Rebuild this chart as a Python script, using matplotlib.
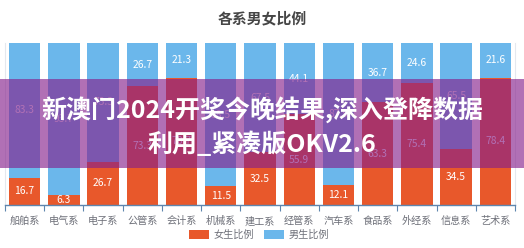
import matplotlib
matplotlib.use("Agg")
import matplotlib.pyplot as plt
import numpy as np
from matplotlib.patches import Rectangle, Patch

plt.rcParams['font.family'] = ['Noto Sans CJK SC', 'DejaVu Sans']

categories = ["船舶系", "电气系", "电子系", "公管系", "会计系", "机械系", "建工系",
              "经管系", "汽车系", "食品系", "外经系", "信息系", "艺术系"]
female = [16.7, 6.3, 26.7, 73.3, 78.7, 11.5, 32.5, 55.9, 12.1, 63.3, 75.4, 34.5, 78.4]
male = [83.3, 93.7, 73.3, 26.7, 21.3, 88.5, 67.5, 44.1, 87.9, 36.7, 24.6, 65.5, 21.6]
series_names = ["女生比例", "男生比例"]
title = "各系男女比例"
overlay_lines = ["新澳门2024开奖今晚结果,深入登降数据", "利用_紧凑版OKV2.6"]

c_female = "#E8582B"
c_male = "#6BB7EB"

W, H = 524, 248
fig = plt.figure(figsize=(W / 100, H / 100), dpi=100)
ax = fig.add_axes([5 / W, (H - 205) / H, 510 / W, 162 / H])

x = np.arange(len(categories))
bw = 0.8
b1 = ax.bar(x, female, width=bw, color=c_female, label=series_names[0], zorder=2)
b2 = ax.bar(x, male, width=bw, bottom=female, color=c_male, label=series_names[1], zorder=2)

for i in range(len(categories)):
    ax.text(x[i], female[i] / 2, f"{female[i]:.1f}", ha="center", va="center",
            color="white", fontsize=7.4, zorder=3)
    ax.text(x[i], female[i] + male[i] / 2, f"{male[i]:.1f}", ha="center", va="center",
            color="white", fontsize=7.4, zorder=3)

ax.set_xlim(-0.5, len(categories) - 0.5)
ax.set_ylim(0, 100)
ax.set_yticks([])
ax.set_xticks(x)
ax.set_xticklabels(categories, fontsize=7.3, color="#6E7079")
ax.tick_params(axis="x", length=0, pad=8)
ax.set_xticks(np.arange(len(categories) + 1) - 0.5, minor=True)
ax.tick_params(axis="x", which="minor", length=4, color="#5E86AE", width=0.8)
ax.spines["top"].set_visible(False)
ax.spines["left"].set_color("#E4E8EE")
ax.spines["right"].set_color("#E4E8EE")
ax.spines["bottom"].set_color("#5E86AE")
ax.spines["bottom"].set_linewidth(1.0)
ax.set_facecolor("white")

fig.text(262 / W, 1 - 18 / H, title, ha="center", va="center", fontsize=10.7,
         fontweight="bold", color="#464646")

handles = [Patch(facecolor=c_female, edgecolor="none"), Patch(facecolor=c_male, edgecolor="none")]
fig.legend(handles, series_names, loc="center", bbox_to_anchor=(259 / W, 1 - 235 / H),
           ncol=2, frameon=False, fontsize=7.3, handlelength=2.0, handleheight=0.9,
           columnspacing=1.0, handletextpad=0.4, labelcolor="#6E7079")

# overlay band
fig.patches.append(Rectangle((0, (H - 168) / H), 1, 89 / H, transform=fig.transFigure,
                             facecolor="#86208C", alpha=0.64, edgecolor="none", zorder=5))
fig.text(262 / W, 1 - 110 / H, overlay_lines[0], ha="center", va="center", fontsize=18,
         fontweight="bold", color="white", zorder=6)
fig.text(262 / W, 1 - 144 / H, overlay_lines[1], ha="center", va="center", fontsize=18,
         fontweight="bold", color="white", zorder=6)

fig.savefig("out.png", dpi=100)
